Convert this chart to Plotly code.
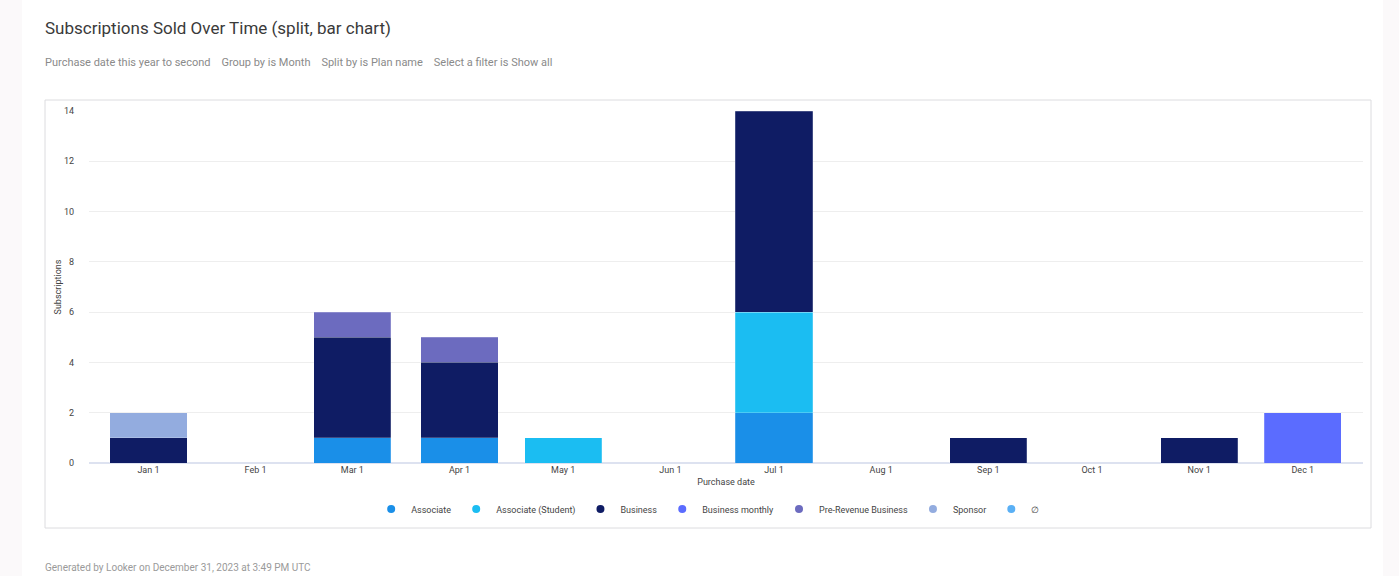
import plotly.graph_objects as go

months = ["2023-01-01", "2023-02-01", "2023-03-01", "2023-04-01", "2023-05-01", "2023-06-01",
          "2023-07-01", "2023-08-01", "2023-09-01", "2023-10-01", "2023-11-01", "2023-12-01"]
month_labels = ["Jan 1", "Feb 1", "Mar 1", "Apr 1", "May 1", "Jun 1",
                "Jul 1", "Aug 1", "Sep 1", "Oct 1", "Nov 1", "Dec 1"]
associate =          [0, 0, 1, 1, 0, 0, 2, 0, 0, 0, 0, 0]
associate_student =  [0, 0, 0, 0, 1, 0, 4, 0, 0, 0, 0, 0]
business =           [1, 0, 4, 3, 0, 0, 8, 0, 1, 0, 1, 0]
business_monthly =   [0, 0, 0, 0, 0, 0, 0, 0, 0, 0, 0, 2]
pre_revenue =        [0, 0, 1, 1, 0, 0, 0, 0, 0, 0, 0, 0]
sponsor =            [1, 0, 0, 0, 0, 0, 0, 0, 0, 0, 0, 0]
null_plan =          [0, 0, 0, 0, 0, 0, 0, 0, 0, 0, 0, 0]
y_ticks = [0, 2, 4, 6, 8, 10, 12, 14]

series = [
    ("Associate", associate, "#1a8fe8"),
    ("Associate (Student)", associate_student, "#1bbdf2"),
    ("Business", business, "#0f1c64"),
    ("Business monthly", business_monthly, "#5b6cff"),
    ("Pre-Revenue Business", pre_revenue, "#6c6bbf"),
    ("Sponsor", sponsor, "#93acdf"),
    ("∅", null_plan, "#5ab0f5"),
]

DAY = 86400000
bar_width = 22.3 * DAY

fig = go.Figure()
for name, vals, color in series:
    fig.add_trace(go.Bar(
        x=months, y=[v if v else None for v in vals], name=name, width=bar_width,
        marker=dict(color=color, line=dict(color="rgba(255,255,255,0.35)", width=0.6)),
        showlegend=False,
    ))
for name, vals, color in series:
    fig.add_trace(go.Scatter(
        x=[None], y=[None], mode="markers", name=name,
        marker=dict(color=color, size=8, symbol="circle"),
        showlegend=True,
    ))

W, H = 1399, 576
L, R, T, B = 89, 1363, 111, 463
pw, ph = R - L, B - T

def px(x):
    return (x - L) / pw

def py(y):
    return (B - y) / ph

shapes = [
    dict(type="rect", xref="paper", yref="paper", x0=px(22), x1=px(1383), y0=py(576), y1=py(0),
         fillcolor="white", line=dict(width=0), layer="below"),
    dict(type="rect", xref="paper", yref="paper", x0=px(45), x1=px(1371), y0=py(528), y1=py(100),
         fillcolor="white", line=dict(color="#dcdcdf", width=1), layer="below"),
]

fig.update_layout(
    width=W, height=H,
    barmode="stack",
    paper_bgcolor="#fbf9fa",
    plot_bgcolor="white",
    margin=dict(l=L, r=W - R, t=T, b=H - B, pad=0),
    font=dict(family="Roboto, Noto Sans, sans-serif", color="#555"),
    shapes=shapes,
    showlegend=True,
    legend=dict(orientation="h", x=0.486, xanchor="center", y=py(509), yanchor="middle",
                traceorder="normal",
                font=dict(size=9, color="#444"), itemwidth=30, tracegroupgap=0,
                bgcolor="rgba(0,0,0,0)"),
    xaxis=dict(
        type="date",
        range=["2022-12-14 19:00", "2023-12-18 10:00"],
        tickmode="array", tickvals=months, ticktext=month_labels,
        showgrid=False, zeroline=False, showline=False, ticks="",
        tickfont=dict(size=9, color="#444"),
        title=dict(text="Purchase date", font=dict(size=9, color="#444"), standoff=4),
        fixedrange=True,
    ),
    yaxis=dict(
        range=[0, 14], tickmode="array", tickvals=y_ticks,
        showgrid=True, gridcolor="#eeeeee", gridwidth=1,
        zeroline=True, zerolinecolor="#dde2f0", zerolinewidth=1.5,
        showline=False, ticks="", ticklabelstandoff=14,
        tickfont=dict(size=9, color="#444"),
        title=dict(text="Subscriptions", font=dict(size=9, color="#444"), standoff=0),
        fixedrange=True,
    ),
    annotations=[
        dict(text="Subscriptions Sold Over Time (split, bar chart)", xref="paper", yref="paper",
             x=px(43), y=py(28), xanchor="left", yanchor="middle", showarrow=False,
             font=dict(size=17, color="#3a3a3a")),
        dict(text="Purchase date this year to second&nbsp;&nbsp;&nbsp;&nbsp;Group by is Month&nbsp;&nbsp;&nbsp;&nbsp;Split by is Plan name&nbsp;&nbsp;&nbsp;&nbsp;Select a filter is Show all",
             xref="paper", yref="paper", x=px(43), y=py(62), xanchor="left", yanchor="middle",
             showarrow=False, font=dict(size=11, color="#8a8a8a")),
        dict(text="Generated by Looker on December 31, 2023 at 3:49 PM UTC", xref="paper", yref="paper",
             x=px(43), y=py(567), xanchor="left", yanchor="middle", showarrow=False,
             font=dict(size=10, color="#9a9a9a")),
    ],
)

fig.write_html(
    "out.html",
    config={"displayModeBar": False},
    post_script="document.body.style.margin='0';document.body.style.overflow='hidden';",
)
